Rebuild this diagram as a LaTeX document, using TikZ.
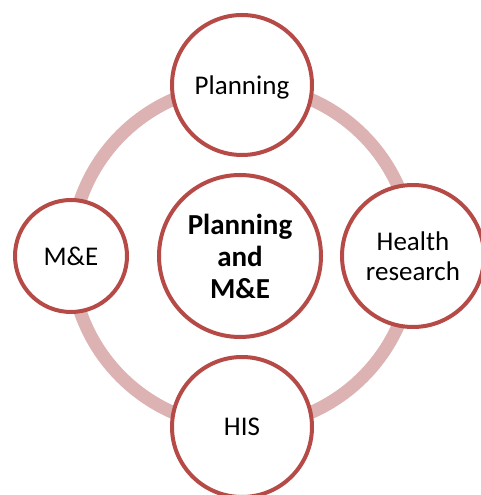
\documentclass[tikz,border=0pt]{standalone}
\usepackage{fontspec}
\setmainfont{Carlito}
\definecolor{circline}{RGB}{181,74,71}
\definecolor{ringpink}{RGB}{220,178,178}
\begin{document}
\begin{tikzpicture}[x=1pt, y=1pt,
    ring/.style={draw=ringpink, line width=13pt},
    topic/.style={circle, draw=circline, line width=4pt, fill=white, inner sep=0pt,
        align=center, text depth=0pt, font=\fontsize{27}{30}\selectfont},
    hub/.style={topic, minimum size=162pt, font=\bfseries\fontsize{29}{32}\selectfont}]
    \useasboundingbox (0,0) rectangle (481,495);
    \begin{scope}[shift={(242,239)}]
        % Pink ring behind the circles
        \draw[ring] (0,0) circle[radius=171pt];

        % Outer circles on the ring
        \foreach \a/\name/\txt/\d in {90/plan/Planning/140, 0/research/{Health\\research}/142,
                                      180/me/M\&E/112, 270/his/HIS/140} {
            \node[topic, minimum size=\d pt] (\name) at (\a:171) {\txt};
        }

        % Centre circle
        \node[hub] (centre) at (-2,0) {Planning\\and\\M\&E};
    \end{scope}
\end{tikzpicture}
\end{document}
